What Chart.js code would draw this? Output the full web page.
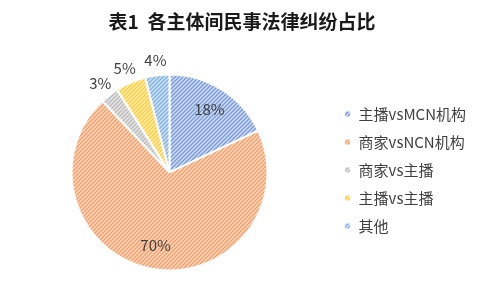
<!DOCTYPE html>
<html lang="zh">
<head>
    <meta charset="UTF-8">
    <title>各主体间民事法律纠纷占比</title>
    <script src="https://cdn.jsdelivr.net/npm/chart.js"></script>
    <style>
        body { margin: 0; background: #fff; }
    </style>
</head>
<body>
    <canvas id="pie" width="480" height="300"></canvas>

    <script>
        // data
        const categories = ['主播vsMCN机构', '商家vsNCN机构', '商家vs主播', '主播vs主播', '其他'];
        const shares = [18, 70, 3, 5, 4];
        const baseColors = ['#6F93D6', '#F09A62', '#B8B8B8', '#FFCB33', '#7BAFDF'];
        const lightColors = ['#CBD8F0', '#FAD3B8', '#E2E2E2', '#FFE9A6', '#C7DEF2'];

        const FONT = '"Noto Sans CJK SC", "Noto Sans", sans-serif';

        // diagonal hatch fill like the office chart
        function hatch(light, dark) {
            const c = document.createElement('canvas');
            c.width = 4; c.height = 4;
            const g = c.getContext('2d');
            g.fillStyle = light;
            g.fillRect(0, 0, 4, 4);
            g.strokeStyle = dark;
            g.lineWidth = 1.2;
            g.beginPath();
            g.moveTo(-1, 5); g.lineTo(5, -1);
            g.moveTo(-1, 1); g.lineTo(1, -1);
            g.moveTo(3, 5); g.lineTo(5, 3);
            g.stroke();
            return g.createPattern(c, 'repeat');
        }
        const fills = baseColors.map((c, i) => hatch(lightColors[i], c));

        // percent labels: inside for big slices, outside for small ones
        const pctLabels = {
            id: 'pctLabels',
            afterDatasetsDraw(chart) {
                const ctx = chart.ctx;
                const meta = chart.getDatasetMeta(0);
                ctx.save();
                ctx.font = '15px ' + FONT;
                ctx.fillStyle = '#404040';
                ctx.textAlign = 'center';
                ctx.textBaseline = 'middle';
                meta.data.forEach((arc, i) => {
                    const p = arc.getProps(['x', 'y', 'startAngle', 'endAngle', 'outerRadius'], true);
                    const mid = (p.startAngle + p.endAngle) / 2;
                    const r = shares[i] >= 10 ? p.outerRadius * 0.76 : p.outerRadius + 15;
                    ctx.fillText(shares[i] + '%', p.x + Math.cos(mid) * r, p.y + Math.sin(mid) * r);
                });
                ctx.restore();
            }
        };

        new Chart(document.getElementById('pie'), {
            type: 'pie',
            data: {
                labels: categories,
                datasets: [{
                    data: shares,
                    backgroundColor: fills,
                    borderColor: '#ffffff',
                    borderWidth: 2
                }]
            },
            options: {
                responsive: false,
                animation: false,
                radius: 98,
                layout: { padding: { left: 8, right: 4 } },
                plugins: {
                    title: {
                        display: true,
                        text: '表1  各主体间民事法律纠纷占比',
                        color: '#1a1a1a',
                        font: { family: FONT, size: 19, weight: 'bold' },
                        padding: { top: 10, bottom: 12 }
                    },
                    legend: {
                        position: 'right',
                        title: {
                            display: true,
                            text: ' ',
                            color: 'rgba(0,0,0,0)',
                            font: { size: 10 },
                            padding: { top: 14, bottom: 14 }
                        },
                        labels: {
                            boxWidth: 7,
                            boxHeight: 7,
                            padding: 13,
                            color: '#404040',
                            font: { family: FONT, size: 15 }
                        }
                    },
                    tooltip: { enabled: false }
                }
            },
            plugins: [pctLabels]
        });
    </script>
</body>
</html>
